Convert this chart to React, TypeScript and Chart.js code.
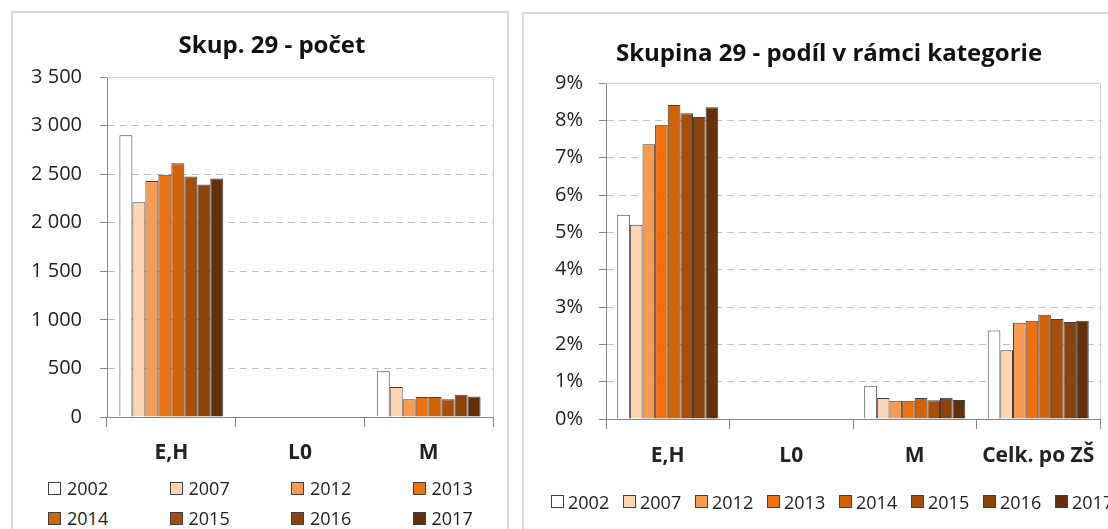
import React, { useEffect, useRef } from 'react';
import { Chart, registerables } from 'chart.js';

Chart.register(...registerables);

const FONT = '"Open Sans", "DejaVu Sans", sans-serif';
const TEXT = '#222222';
const AXIS = '#868686';
const GRID = '#c0c0c0';

// ---- data ----
const years = ['2002', '2007', '2012', '2013', '2014', '2015', '2016', '2017'];
const yearColors = ['#FFFFFF', '#FCD5B5', '#F79B52', '#EE700E', '#D0640A', '#A84E0A', '#8A430C', '#63300A'];

const countTitle = 'Skup. 29 - počet';
const countCategories = ['E,H', 'L0', 'M'];
const countEH = [2900, 2210, 2430, 2495, 2612, 2475, 2393, 2455];
const countL0 = [0, 0, 0, 0, 0, 0, 0, 0];
const countM = [472, 309, 184, 205, 205, 184, 229, 212];
const countAxisMax = 3500;
const countAxisStep = 500;

const shareTitle = 'Skupina 29 - podíl v rámci kategorie';
const shareCategories = ['E,H', 'L0', 'M', 'Celk. po ZŠ'];
const shareEH = [5.47, 5.2, 7.36, 7.88, 8.41, 8.19, 8.09, 8.35];
const shareL0 = [0, 0, 0, 0, 0, 0, 0, 0];
const shareM = [0.89, 0.56, 0.49, 0.49, 0.56, 0.5, 0.57, 0.51];
const shareTotal = [2.37, 1.84, 2.58, 2.63, 2.79, 2.68, 2.6, 2.63];
const shareAxisMax = 9;
const shareAxisStep = 1;

const formatCount = (v: number) => String(v).replace(/\B(?=(\d{3})+(?!\d))/g, ' ');
const formatShare = (v: number) => `${v}%`;

const countSeries = years.map((_, i) => [countEH[i], countL0[i], countM[i]]);
const shareSeries = years.map((_, i) => [shareEH[i], shareL0[i], shareM[i], shareTotal[i]]);

const plotFrame = {
  id: 'plotFrame',
  beforeDatasetsDraw(chart: any) {
    const { ctx, chartArea: a } = chart;
    const t = Math.round(a.top) + 0.5;
    const r = Math.round(a.right) + 0.5;
    ctx.save();
    ctx.strokeStyle = '#d0d0d0';
    ctx.lineWidth = 1;
    ctx.beginPath();
    ctx.moveTo(a.left, t);
    ctx.lineTo(r, t);
    ctx.lineTo(r, a.bottom);
    ctx.stroke();
    ctx.restore();
  },
};

type ChartProps = {
  left: number;
  top: number;
  width: number;
  height: number;
  title: string;
  categories: string[];
  series: number[][];
  max: number;
  step: number;
  format: (v: number) => string;
  rightSpace: number;
  yAxisWidth: number;
  titleTop: number;
  titleBottom: number;
  yPad: number;
  xPad: number;
  catPct: number;
};

function BarChart(p: ChartProps) {
  const ref = useRef<HTMLCanvasElement | null>(null);
  useEffect(() => {
    if (!ref.current) return;
    const chart = new Chart(ref.current, {
      type: 'bar',
      data: {
        labels: p.categories,
        datasets: years.map((y, i) => ({
          label: y,
          data: p.series[i],
          backgroundColor: yearColors[i],
          borderColor: '#404040',
          borderWidth: 1,
          categoryPercentage: p.catPct,
          barPercentage: 1,
          yAxisID: 'y',
        })),
      },
      options: {
        responsive: false,
        animation: false,
        layout: { padding: { left: 0, right: 0, top: 0, bottom: 0 } },
        plugins: {
          legend: { display: false },
          tooltip: { enabled: false },
          title: {
            display: true,
            text: p.title,
            color: '#111111',
            font: { family: FONT, size: 24, weight: 'bold' },
            padding: { top: p.titleTop, bottom: p.titleBottom },
          },
        },
        scales: {
          x: {
            grid: {
              display: true,
              drawOnChartArea: false,
              drawTicks: true,
              tickLength: 10,
              tickColor: AXIS,
              offset: true,
            },
            border: { color: AXIS, width: 1 },
            ticks: {
              color: TEXT,
              font: { family: FONT, size: 21, weight: 'bold' },
              padding: p.xPad,
              autoSkip: false,
              maxRotation: 0,
            },
            afterFit: (s: any) => {
              s.height = 60;
            },
          },
          y: {
            position: 'left',
            min: 0,
            max: p.max,
            grid: { color: GRID, lineWidth: 1, tickColor: AXIS, tickLength: 7 },
            border: { color: AXIS, width: 1, dash: [7, 5] },
            ticks: {
              stepSize: p.step,
              color: TEXT,
              font: { family: FONT, size: 20 },
              padding: p.yPad,
              callback: (v: any) => p.format(Number(v)),
            },
            afterFit: (s: any) => {
              s.width = p.yAxisWidth;
            },
          },
          spacer: {
            type: 'linear',
            position: 'right',
            display: true,
            min: 0,
            max: 1,
            grid: { display: false, drawTicks: false },
            border: { display: false },
            ticks: { display: false },
            afterFit: (s: any) => {
              s.width = p.rightSpace;
            },
          },
        },
      },
      plugins: [plotFrame],
    } as any);
    return () => chart.destroy();
  }, []);
  return (
    <canvas
      ref={ref}
      width={p.width}
      height={p.height}
      style={{ position: 'absolute', left: p.left, top: p.top, width: p.width, height: p.height }}
    />
  );
}

function LegendItem({ x, y, color, label, gap }: { x: number; y: number; color: string; label: string; gap: number }) {
  return (
    <div
      style={{
        position: 'absolute',
        left: x,
        top: y - 10,
        height: 20,
        display: 'flex',
        alignItems: 'center',
        fontFamily: FONT,
        fontSize: 18,
        lineHeight: '20px',
        color: TEXT,
        whiteSpace: 'nowrap',
      }}
    >
      <span
        style={{
          display: 'inline-block',
          width: 13,
          height: 13,
          boxSizing: 'border-box',
          border: '1px solid #404040',
          background: color,
          marginRight: gap,
        }}
      />
      <span>{label}</span>
    </div>
  );
}

export default function App() {
  return (
    <div
      style={{
        position: 'absolute',
        left: 0,
        top: 0,
        width: 1108,
        height: 529,
        overflow: 'hidden',
        background: '#ffffff',
      }}
    >
      <div
        style={{
          position: 'absolute',
          left: 11,
          top: 11,
          width: 498,
          height: 560,
          boxSizing: 'border-box',
          border: '2px solid #d9d9d9',
        }}
      />
      <div
        style={{
          position: 'absolute',
          left: 522,
          top: 12,
          width: 616,
          height: 560,
          boxSizing: 'border-box',
          border: '2px solid #d9d9d9',
        }}
      />
      <BarChart
        left={11}
        top={11}
        width={522}
        height={466}
        title={countTitle}
        categories={countCategories}
        series={countSeries}
        max={countAxisMax}
        step={countAxisStep}
        format={formatCount}
        rightSpace={40}
        yAxisWidth={96}
        titleTop={20.6}
        titleBottom={16.6}
        yPad={18}
        xPad={13.4}
        catPct={0.807}
      />
      <BarChart
        left={522}
        top={13}
        width={614}
        height={466}
        title={shareTitle}
        categories={shareCategories}
        series={shareSeries}
        max={shareAxisMax}
        step={shareAxisStep}
        format={formatShare}
        rightSpace={36}
        yAxisWidth={84}
        titleTop={26.6}
        titleBottom={14.6}
        yPad={16}
        xPad={14.4}
        catPct={0.818}
      />
      {years.map((y, i) => (
        <LegendItem
          key={'l' + y}
          x={48 + (i % 4) * 121.5}
          y={i < 4 ? 488 : 518}
          color={yearColors[i]}
          label={y}
          gap={6}
        />
      ))}
      {years.map((y, i) => (
        <LegendItem key={'r' + y} x={551 + i * 72} y={501.7} color={yearColors[i]} label={y} gap={4} />
      ))}
    </div>
  );
}
